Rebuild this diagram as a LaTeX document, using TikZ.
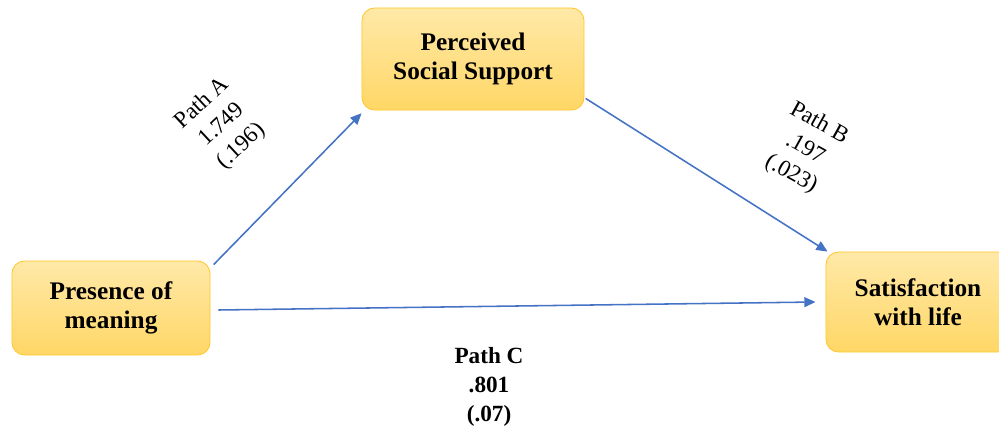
\documentclass[tikz,border=0pt]{standalone}
\usepackage{fontspec}
\setmainfont{Liberation Serif}
\usetikzlibrary{arrows.meta,shadings}
\definecolor{boxtop}{HTML}{FFE9A8}
\definecolor{boxbot}{HTML}{FFD766}
\definecolor{boxline}{HTML}{FFC72C}
\definecolor{pathblue}{HTML}{4472C4}
\tikzset{
  varbox/.style={draw=boxline,line width=0.6pt,rounded corners=9pt,
    top color=boxtop,bottom color=boxbot,align=center,
    font=\fontsize{18}{21}\selectfont\bfseries},
  patharrow/.style={draw=pathblue,line width=1.1pt,
    -{Triangle[length=8pt,width=7pt]}},
  pathlabel/.style={align=center,font=\fontsize{16.5}{20.5}\selectfont}
}
\begin{document}
\begin{tikzpicture}[x=0.025cm,y=-0.025cm]
\useasboundingbox (0,0) rectangle (999,433);
\node [varbox,minimum width=4.95cm,minimum height=2.35cm,name=pm] at (111,308){Presence of\\meaning};
\node [varbox,minimum width=5.55cm,minimum height=2.55cm,name=pss] at (473,59){Perceived\\Social Support};
\node [varbox,minimum width=4.6cm,minimum height=2.5cm,name=swl] at (918,302){Satisfaction\\with life};
\draw[patharrow] ([shift={(0.08cm,-0.1cm)}]pm.north east)--([shift={(0cm,-0.07cm)}]pss.south west);
\draw[patharrow] ([shift={(0.03cm,0.3cm)}]pss.south east)--([shift={(0.05cm,0cm)}]swl.north west);
\draw[patharrow] ([shift={(0.2cm,-0.05cm)}]pm.east)--([shift={(-0.25cm,0cm)}]swl.west);
\node [pathlabel,rotate=43,name=pa] at (222,125){Path A\\1.749\\(.196)};
\node [pathlabel,rotate=-29,name=pb] at (805,149){Path B\\.197\\(.023)};
\node [pathlabel,font=\fontsize{16.5}{20.5}\selectfont\bfseries,name=pc] at (489,387){Path C\\.801\\(.07)};
\end{tikzpicture}
\end{document}
